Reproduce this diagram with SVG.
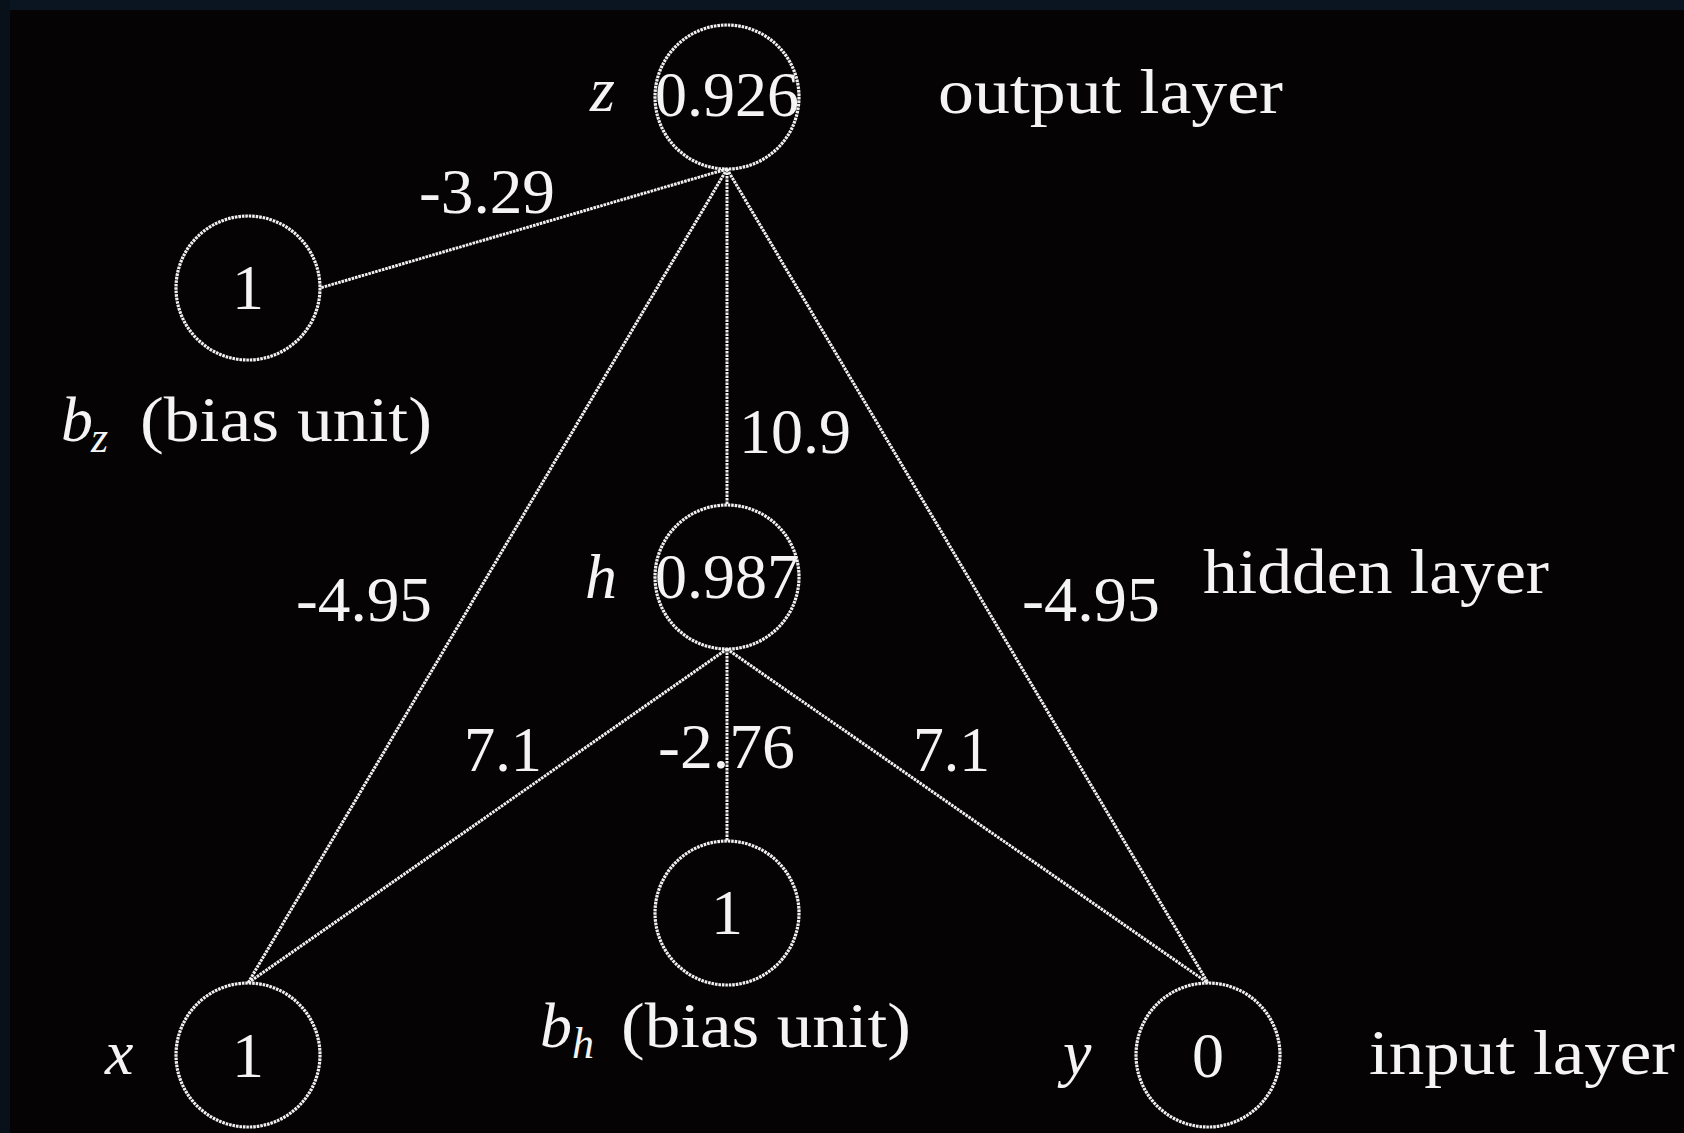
<svg xmlns="http://www.w3.org/2000/svg" width="1684" height="1133" viewBox="0 0 1684 1133">
<style>
.bg{fill:#050303}
.n{fill:none;stroke:#f0f0f0;stroke-width:3.2;stroke-dasharray:2.6 0.9}
.e{stroke:#f0f0f0;stroke-width:3;stroke-dasharray:2.6 0.9;fill:none}
text{font-family:"Liberation Serif","DejaVu Serif",serif;fill:#f4f4f4;font-size:64px}
.v{text-anchor:middle}
.i{font-style:italic}
.s{font-size:44px;font-style:italic}
</style>
<rect class="bg" x="0" y="0" width="1684" height="1133"/>
<rect x="0" y="0" width="1684" height="10" fill="#0b1522"/>
<rect x="0" y="0" width="10" height="1133" fill="#08101a"/>
<g id="connectors">
<line class="e" x1="727" y1="169" x2="320" y2="288"/>
<line class="e" x1="727" y1="169" x2="248" y2="983"/>
<line class="e" x1="727" y1="169" x2="727" y2="505"/>
<line class="e" x1="727" y1="169" x2="1208" y2="983"/>
<line class="e" x1="727" y1="649" x2="248" y2="983"/>
<line class="e" x1="727" y1="649" x2="727" y2="841"/>
<line class="e" x1="727" y1="649" x2="1208" y2="983"/>
<text x="419" y="213" textLength="136" lengthAdjust="spacingAndGlyphs">-3.29</text>
<text x="739" y="453" textLength="112" lengthAdjust="spacingAndGlyphs">10.9</text>
<text x="296" y="621" textLength="136" lengthAdjust="spacingAndGlyphs">-4.95</text>
<text x="1022" y="621" textLength="138" lengthAdjust="spacingAndGlyphs">-4.95</text>
<text x="464" y="771" textLength="78" lengthAdjust="spacingAndGlyphs">7.1</text>
<text x="658" y="768" textLength="137" lengthAdjust="spacingAndGlyphs">-2.76</text>
<text x="913" y="771" textLength="77" lengthAdjust="spacingAndGlyphs">7.1</text>
</g>
<g id="node-z">
<circle class="n" cx="727" cy="97" r="72"/>
<text class="i" x="590" y="111">z</text>
<text class="v" x="727" y="116">0.926</text>
<text x="938" y="113" textLength="345" lengthAdjust="spacingAndGlyphs">output layer</text>
</g>
<g id="node-bz">
<circle class="n" cx="248" cy="288" r="72"/>
<text class="v" x="248" y="309">1</text>
<text class="i" x="61" y="441">b</text>
<text class="s" x="91" y="452">z</text>
<text x="140" y="441" textLength="292" lengthAdjust="spacingAndGlyphs">(bias unit)</text>
</g>
<g id="node-h">
<circle class="n" cx="727" cy="577" r="72"/>
<text class="i" x="585" y="598">h</text>
<text class="v" x="727" y="598">0.987</text>
<text x="1203" y="593" textLength="346" lengthAdjust="spacingAndGlyphs">hidden layer</text>
</g>
<g id="node-bh">
<circle class="n" cx="727" cy="913" r="72"/>
<text class="v" x="727" y="934">1</text>
<text class="i" x="540" y="1047">b</text>
<text class="s" x="572" y="1058">h</text>
<text x="621" y="1047" textLength="290" lengthAdjust="spacingAndGlyphs">(bias unit)</text>
</g>
<g id="node-x">
<circle class="n" cx="248" cy="1055" r="72"/>
<text class="i" x="105" y="1074">x</text>
<text class="v" x="248" y="1077">1</text>
</g>
<g id="node-y">
<circle class="n" cx="1208" cy="1055" r="72"/>
<text class="i" x="1063" y="1074">y</text>
<text class="v" x="1208" y="1077">0</text>
<text x="1369" y="1074" textLength="306" lengthAdjust="spacingAndGlyphs">input layer</text>
</g>
</svg>
